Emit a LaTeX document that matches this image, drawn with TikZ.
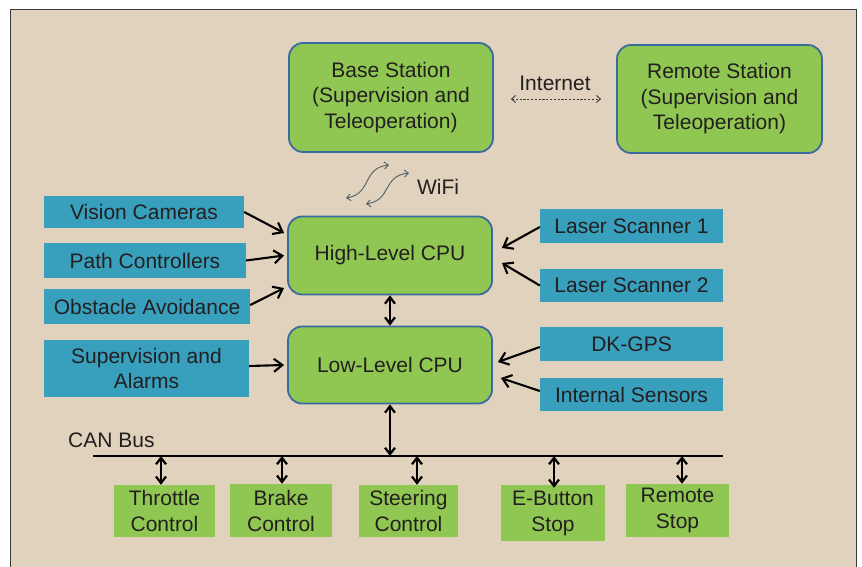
\documentclass[tikz,border=0pt]{standalone}
\usepackage{fontspec}
\setmainfont{Liberation Sans}
\usetikzlibrary{arrows.meta,calc}

\definecolor{paper}{HTML}{E0D2BC}
\definecolor{framegray}{HTML}{3A3A3A}
\definecolor{leaf}{HTML}{90C752}
\definecolor{teal}{HTML}{38A0BD}
\definecolor{edgeblue}{HTML}{3A6AA0}
\definecolor{ink}{HTML}{231F20}
\definecolor{wire}{HTML}{4F5F68}

\tikzset{
  label font/.style={font=\fontsize{21pt}{25.5pt}\selectfont, text=ink, align=center, inner sep=0pt},
  station/.style={label font, draw=edgeblue, line width=1.8pt, fill=leaf, rounded corners=14pt},
  sensor/.style={label font, fill=teal},
  actuator/.style={label font, fill=leaf, font=\fontsize{21pt}{26pt}\selectfont},
  feed/.style={draw=black, line width=2.1pt, -{Straight Barb[length=8.5pt,width=13pt]}},
  both/.style={draw=black, line width=2.2pt, {Straight Barb[length=6.5pt,width=10pt]}-{Straight Barb[length=6.5pt,width=10pt]}},
  radio/.style={draw=wire, line width=0.9pt, {Straight Barb[length=4pt,width=7pt]}-{Straight Barb[length=4pt,width=7pt]}},
}

\begin{document}
\begin{tikzpicture}[x=1pt,y=-1pt]
\useasboundingbox (0,0) rectangle (862,567);
\fill[white] (0,0) rectangle (862,567);
\draw[framegray, fill=paper, line width=1pt] (10,9.5) rectangle (856,590);

% stations
\node[station, minimum width=204pt, minimum height=109pt] (base) at (391,97.5)
  {Base Station\\(Supervision and\\Teleoperation)};
\node[station, minimum width=205pt, minimum height=108pt] (remote) at (719.5,99)
  {Remote Station\\(Supervision and\\Teleoperation)};
\node[label font] (internet) at (555,83) {Internet};

% processors
\node[station, minimum width=204pt, minimum height=78pt] (high) at (390,255.5) {High-Level CPU};
\node[station, minimum width=204pt, minimum height=77pt] (low) at (390,365) {Low-Level CPU};

% left inputs
\node[sensor, minimum width=200pt, minimum height=32pt] (vision) at (144,212) {Vision Cameras};
\node[sensor, minimum width=202pt, minimum height=35pt] (path) at (145,260.5) {Path Controllers};
\node[sensor, minimum width=206pt, minimum height=35pt] (obstacle) at (147,306.5) {Obstacle Avoidance};
\node[sensor, minimum width=205pt, minimum height=57pt] (superv) at (146.5,368.5) {Supervision and\\Alarms};

% right inputs
\node[sensor, minimum width=183pt, minimum height=34pt] (ls1) at (631.5,226) {Laser Scanner 1};
\node[sensor, minimum width=183pt, minimum height=33pt] (ls2) at (631.5,285.5) {Laser Scanner 2};
\node[sensor, minimum width=183pt, minimum height=34pt] (gps) at (631.5,344) {DK-GPS};
\node[sensor, minimum width=183pt, minimum height=33pt] (internal) at (631.5,394.5) {Internal Sensors};

% CAN bus and actuators
\coordinate (busL) at (93,456);
\coordinate (busR) at (723,456);
\draw[black, line width=2.4pt] (busL) -- (busR);
\node[label font, anchor=base west] (can) at (68,447) {CAN Bus};

\node[actuator, minimum width=101pt, minimum height=52pt] (throttle) at (164.5,511) {Throttle\\Control};
\node[actuator, minimum width=102pt, minimum height=53pt] (brake) at (281,510.5) {Brake\\Control};
\node[actuator, minimum width=99pt, minimum height=52pt] (steering) at (408.5,511) {Steering\\Control};
\node[actuator, minimum width=104pt, minimum height=56pt] (ebutton) at (553,513) {E-Button\\Stop};
\node[actuator, minimum width=103pt, minimum height=53pt] (remstop) at (677.5,510.5) {Remote\\Stop};

% internet link
\draw[draw=gray!45!black, line width=0.9pt, dash pattern=on 2.2pt off 1.6pt,
      {Straight Barb[length=4pt,width=7pt]}-{Straight Barb[length=4pt,width=7pt]},
      shorten <=17pt, shorten >=15pt]
  ([yshift=-1.5pt]base.east) -- ([yshift=-1.5pt]base.east -| remote.west);

% wifi link
\coordinate (w1a) at (346,198);
\coordinate (w1b) at (389,165);
\coordinate (w2a) at (366,204);
\coordinate (w2b) at (409,173);
\draw[radio] (w1a) .. controls (372,194) and (362,168) .. (w1b);
\draw[radio] (w2a) .. controls (392,200) and (382,176) .. (w2b);
\node[label font] (wifi) at (438,187) {WiFi};

% inputs into the high-level CPU
\draw[feed] (vision.east) -- ([xshift=-3pt,yshift=22.5pt]high.west);
\draw[feed] (path.east) -- ([xshift=-3pt]high.west);
\draw[feed] ([yshift=1.5pt]obstacle.east) -- ([xshift=-3pt,yshift=-32.5pt]high.west);
\draw[feed] ([yshift=-1pt]ls1.west) -- ([xshift=9pt,yshift=7.5pt]high.east);
\draw[feed] (ls2.west) -- ([xshift=9pt,yshift=-7.5pt]high.east);

% inputs into the low-level CPU
\draw[feed] ([yshift=2.5pt]superv.east) -- ([xshift=-3pt]low.west);
\draw[feed] ([yshift=-3pt]gps.west) -- ([xshift=5pt,yshift=3pt]low.east);
\draw[feed] ([yshift=3.5pt]internal.west) -- ([xshift=8pt,yshift=-13pt]low.east);

% CPU links
\draw[both] (high.south) -- (low.north);
\draw[both] (low.south) -- (low.south |- busL);

% bus taps
\draw[both] ([xshift=-3.5pt]throttle.north |- busL) -- ([xshift=-3.5pt]throttle.north);
\draw[both] ([xshift=1pt]brake.north |- busL) -- ([xshift=1pt]brake.north);
\draw[both] ([xshift=8.5pt]steering.north |- busL) -- ([xshift=8.5pt]steering.north);
\draw[both] ([xshift=1pt]ebutton.north |- busL) -- ([xshift=1pt,yshift=-3pt]ebutton.north);
\draw[both] ([xshift=4.5pt]remstop.north |- busL) -- ([xshift=4.5pt]remstop.north);
\end{tikzpicture}
\end{document}
